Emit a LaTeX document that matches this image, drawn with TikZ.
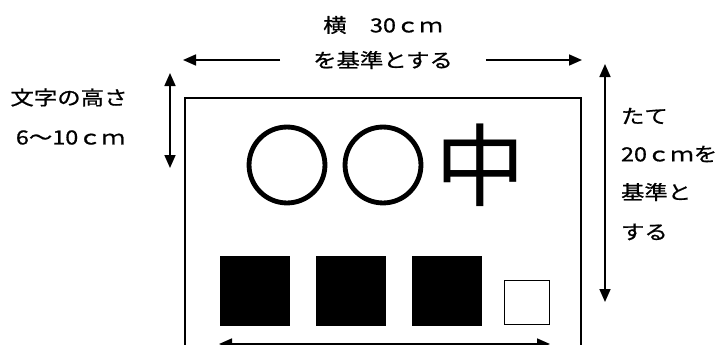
\documentclass[tikz,border=0pt]{standalone}
\usepackage{fontspec}
\usetikzlibrary{arrows.meta}
\newfontfamily\jp[FakeBold=0.7]{Noto Sans CJK JP}
\newfontfamily\jpbig[FakeBold=1.8]{Noto Sans CJK JP}
\newfontfamily\jpplain{Noto Sans CJK JP}
\newcommand{\jt}[1]{\scalebox{1.2}[1]{\fontsize{19.5pt}{21pt}\selectfont\jp #1}}
\begin{document}
\begin{tikzpicture}[x=1pt,y=-1pt,
  lbl/.style={inner sep=0pt,outer sep=0pt},
  dim/.style={line width=1.7pt,{Triangle[length=13pt,width=11pt]}-{Triangle[length=13pt,width=11pt]}},
  onearrow/.style={line width=1.7pt,-{Triangle[length=13pt,width=11pt]}},
  frame/.style={line width=1.3pt},
  blk/.style={fill=black,draw=none,minimum size=70pt,inner sep=0pt},
  wsq/.style={draw=black,line width=1.3pt,fill=white,minimum width=45pt,minimum height=44pt,inner sep=0pt},
  big/.style={inner sep=0pt,font=\jpbig\fontsize{88pt}{90pt}\selectfont},
  bigk/.style={inner sep=0pt,font=\jpplain\fontsize{90pt}{92pt}\selectfont}]
\useasboundingbox (0,0) rectangle (728,345);
% board outline (bottom is outside the picture)
\coordinate (bl) at (185,346);
\coordinate (tl) at (185,98);
\coordinate (tr) at (581,98);
\coordinate (br) at (581,346);
\draw[frame] (bl) -- (tl) -- (tr) -- (br);
% top labels and width arrows
\node[lbl] (w1) at (383,25) {\jt{横　30ｃｍ}};
\node[lbl] (w2) at (383,60) {\jt{を基準とする}};
\coordinate (wl) at (183,60);
\coordinate (wr) at (582,60);
\draw[onearrow] (w2.west) ++(-33,0) coordinate (wla) -- (wl);
\draw[onearrow] (w2.east) ++(33,0) coordinate (wra) -- (wr);
% letter height
\node[lbl] (h1) at (69,97.5) {\jt{文字の高さ}};
\node[lbl] (h2) at (70.5,137.5) {\jt{6～10ｃｍ}};
\coordinate (ht) at (170,73);
\coordinate (hb) at (170,168);
\draw[dim] (ht) -- (hb);
% height of board
\coordinate (vt) at (605,64);
\coordinate (vb) at (605,302);
\draw[dim] (vt) -- (vb);
\node[lbl,anchor=west] (t1) at (621,116) {\jt{たて}};
\node[lbl,anchor=west] (t2) at (621,154) {\jt{20ｃｍを}};
\node[lbl,anchor=west] (t3) at (621,192) {\jt{基準と}};
\node[lbl,anchor=west] (t4) at (621,232) {\jt{する}};
% big characters
\node[big] (c1) at (287,165) {○};
\node[big] (c2) at (383,165) {○};
\node[bigk] (c3) at (480,165) {中};
% squares
\node[blk] (s1) at (255,291) {};
\node[blk] (s2) at (351,291) {};
\node[blk] (s3) at (447,291) {};
\node[wsq] (s4) at (527,302.5) {};
% bottom width arrow
\coordinate (bla) at (219,344);
\coordinate (bra) at (550,344);
\draw[dim] (bla) -- (bra);
\end{tikzpicture}
\end{document}
